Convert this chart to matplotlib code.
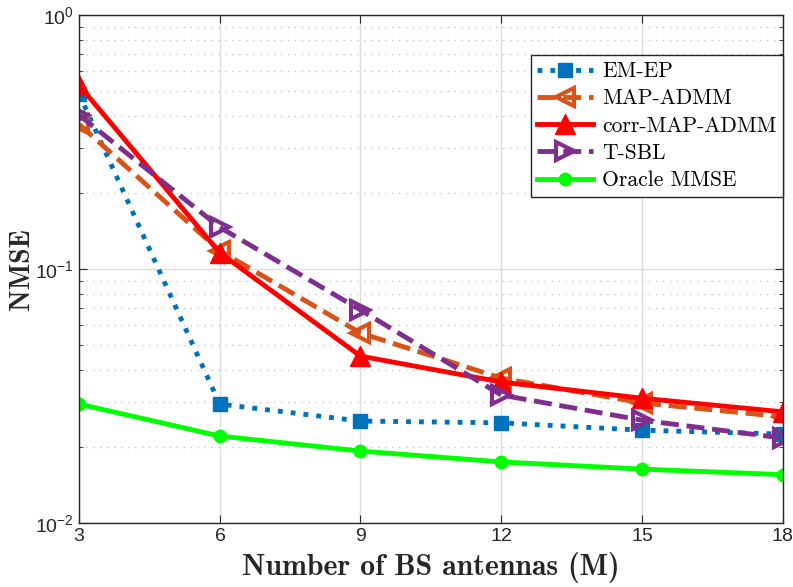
import matplotlib
matplotlib.use("Agg")
from matplotlib import pyplot as plt
from matplotlib.ticker import LogLocator, NullFormatter, FixedLocator

plt.rcParams['font.family'] = ['Liberation Sans', 'DejaVu Sans']
plt.rcParams['mathtext.fontset'] = 'custom'
plt.rcParams['mathtext.rm'] = 'Liberation Sans'
plt.rcParams['axes.formatter.use_mathtext'] = True

# data
antennas = [3, 6, 9, 12, 15, 18]
em_ep = [0.49, 0.0294, 0.0252, 0.0248, 0.0232, 0.0224]
map_admm = [0.372, 0.118, 0.056, 0.0372, 0.0297, 0.0262]
corr_map_admm = [0.53, 0.116, 0.0454, 0.0359, 0.031, 0.0274]
t_sbl = [0.404, 0.146, 0.069, 0.0319, 0.0254, 0.0216]
oracle = [0.0294, 0.022, 0.0192, 0.0174, 0.0163, 0.0155]

fig = plt.figure(figsize=(7.93, 5.87), dpi=100)
ax = fig.add_axes([0.0996, 0.109, 0.8874, 0.8654])

ax.plot(antennas, em_ep, color='#0072BD', linestyle=':', linewidth=3.5,
        marker='s', markersize=10, label='EM-EP')
ax.plot(antennas, map_admm, color='#D95319', linestyle='--', linewidth=3.5,
        marker='<', markersize=13, markerfacecolor='none', markeredgewidth=3,
        label='MAP-ADMM')
ax.plot(antennas, corr_map_admm, color='#FF0000', linestyle='-', linewidth=3.5,
        marker='^', markersize=14, label='corr-MAP-ADMM')
ax.plot(antennas, t_sbl, color='#7E2F8E', linestyle='--', linewidth=3.5,
        marker='>', markersize=13, markerfacecolor='none', markeredgewidth=3,
        label='T-SBL')
ax.plot(antennas, oracle, color='#00FF00', linestyle='-', linewidth=3.5,
        marker='o', markersize=9, label='Oracle MMSE')

ax.set_yscale('log')
ax.set_xlim(3, 18)
ax.set_ylim(1e-2, 1)
ax.xaxis.set_major_locator(FixedLocator(antennas))
ax.yaxis.set_major_locator(LogLocator(base=10, numticks=5))
ax.yaxis.set_minor_locator(LogLocator(base=10, subs=range(2, 10), numticks=20))
ax.yaxis.set_minor_formatter(NullFormatter())

ax.grid(True, which='major', color='#dcdcdc', linestyle='-', linewidth=1)
ax.grid(True, which='minor', axis='y', color='#c8c8c8', linestyle=(0, (1, 4)), linewidth=1)
ax.set_axisbelow(True)

ax.tick_params(which='both', direction='in', top=True, right=True,
               labelsize=14, colors='#262626')
ax.tick_params(which='major', length=6)
ax.tick_params(which='minor', length=3)
for s in ax.spines.values():
    s.set_color('#262626')
    s.set_linewidth(1)

ax.set_xlabel('Number of BS antennas (M)', family='cmb10', fontsize=21.5, color='#262626', labelpad=5)
ax.set_ylabel('NMSE', family='cmb10', fontsize=20, color='#262626', labelpad=0)

leg = ax.legend(loc='upper right', bbox_to_anchor=(1.0, 0.921), prop={'family': 'cmr10', 'size': 15.5},
                fancybox=False, edgecolor='#262626', framealpha=1,
                handlelength=2.6, borderpad=0.3, labelspacing=0.36, handletextpad=0.4,
                borderaxespad=0)
leg.get_frame().set_linewidth(1)

fig.savefig('out.png', dpi=100)
